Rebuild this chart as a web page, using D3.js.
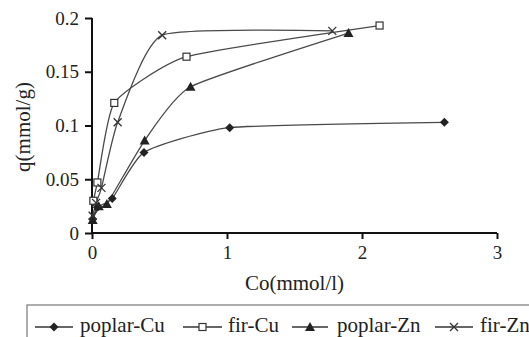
<!DOCTYPE html>
<html>
<head>
<meta charset="utf-8">
<script src="https://cdn.jsdelivr.net/npm/d3@7"></script>
<style>
  body { margin: 0; background: #fff; }
</style>
</head>
<body>
<div id="chart"></div>
<script>
var svgWidth = 529;
var svgHeight = 337;
var serif = "'Liberation Serif', 'Times New Roman', serif";

var margin = { top: 18, right: 32, bottom: 104, left: 92 };
var width = svgWidth - margin.left - margin.right;
var height = svgHeight - margin.top - margin.bottom;

// data: [Co (mmol/l), q (mmol/g)]
var seriesNames = ["poplar-Cu", "fir-Cu", "poplar-Zn", "fir-Zn"];
var markerTypes = ["diamond", "square", "triangle", "cross"];
var poplarCu = [[0.005, 0.013], [0.04, 0.024], [0.15, 0.032], [0.385, 0.075], [1.02, 0.098], [2.61, 0.103]];
var firCu = [[0.01, 0.03], [0.04, 0.047], [0.165, 0.121], [0.70, 0.164], [2.13, 0.193]];
var poplarZn = [[0.005, 0.012], [0.05, 0.025], [0.11, 0.027], [0.39, 0.086], [0.73, 0.136], [1.90, 0.186]];
var firZn = [[0.005, 0.016], [0.03, 0.028], [0.07, 0.042], [0.19, 0.103], [0.52, 0.184], [1.78, 0.188]];
var xTicks = [0, 1, 2, 3];
var yTicks = [0, 0.05, 0.1, 0.15, 0.2];

var allSeries = [poplarCu, firCu, poplarZn, firZn];

var svg = d3.select("#chart")
    .append("svg")
    .attr("width", svgWidth)
    .attr("height", svgHeight);

var chartGroup = svg.append("g")
    .attr("transform", `translate(${margin.left}, ${margin.top})`);

var xScale = d3.scaleLinear().domain([0, 3]).range([0, width]);
var yScale = d3.scaleLinear().domain([0, 0.2]).range([height, 0]);

/********************************************************/

var bottomAxis = d3.axisBottom(xScale).tickValues(xTicks).tickFormat(d3.format("d")).tickSize(6).tickPadding(7);
var leftAxis = d3.axisLeft(yScale).tickValues(yTicks).tickFormat(d => d === 0 ? "0" : String(d)).tickSize(7).tickPadding(6);

var xAxisG = chartGroup.append("g")
    .attr("transform", `translate(0, ${height})`)
    .call(bottomAxis);

var yAxisG = chartGroup.append("g")
    .call(leftAxis);

[xAxisG, yAxisG].forEach(function (g) {
    g.select(".domain").attr("stroke", "#111").attr("stroke-width", 2);
    g.selectAll(".tick line").attr("stroke", "#111").attr("stroke-width", 2);
    g.selectAll(".tick text").attr("fill", "#222")
        .style("font-family", serif).style("font-size", "19px");
});
xAxisG.select(".domain").attr("d", `M0,0H${width}`);
yAxisG.select(".domain").attr("d", `M0,${height}V0`);

/********************************************************/

var line = d3.line()
    .x(d => xScale(d[0]))
    .y(d => yScale(d[1]))
    .curve(d3.curveCardinal.tension(0.5));

function drawMarker(g, type, x, y) {
    if (type === "diamond") {
        g.append("path").attr("d", `M${x},${y - 4.5}L${x + 4.5},${y}L${x},${y + 4.5}L${x - 4.5},${y}Z`)
            .attr("fill", "#222");
    } else if (type === "square") {
        g.append("rect").attr("x", x - 3.5).attr("y", y - 3.5).attr("width", 7).attr("height", 7)
            .attr("fill", "#fff").attr("stroke", "#333").attr("stroke-width", 1.2);
    } else if (type === "triangle") {
        g.append("path").attr("d", `M${x},${y - 5}L${x + 5},${y + 4}L${x - 5},${y + 4}Z`)
            .attr("fill", "#222");
    } else {
        g.append("path").attr("d", `M${x - 4},${y - 4}L${x + 4},${y + 4}M${x - 4},${y + 4}L${x + 4},${y - 4}`)
            .attr("stroke", "#333").attr("stroke-width", 1.3);
    }
}

allSeries.forEach(function (data, i) {
    chartGroup.append("path")
        .datum(data)
        .attr("d", line)
        .attr("fill", "none")
        .attr("stroke", "#4a4a4a")
        .attr("stroke-width", 1.3);
});

allSeries.forEach(function (data, i) {
    var g = chartGroup.append("g");
    data.forEach(function (d) {
        drawMarker(g, markerTypes[i], xScale(d[0]), yScale(d[1]));
    });
});

/********************************************************/

svg.append("text")
    .attr("transform", "translate(30, 127) rotate(-90)")
    .attr("text-anchor", "middle")
    .attr("fill", "#222")
    .style("font-family", serif).style("font-size", "21px")
    .text("q(mmol/g)");

svg.append("text")
    .attr("x", margin.left + width / 2)
    .attr("y", 290)
    .attr("text-anchor", "middle")
    .attr("fill", "#222")
    .style("font-family", serif).style("font-size", "21px")
    .text("Co(mmol/l)");

// legend, clipped by the page edge like the original
var legend = svg.append("g").attr("transform", "translate(27, 305)");
legend.append("rect")
    .attr("x", 0).attr("y", 0)
    .attr("width", 540).attr("height", 60)
    .attr("fill", "#fff").attr("stroke", "#777").attr("stroke-width", 1.2);

var legendX = [8, 156, 265, 408];
var legendLen = [38, 39, 36, 38];
var legendText = [45, 45, 45, 45];
seriesNames.forEach(function (name, i) {
    var lg = legend.append("g").attr("transform", `translate(${legendX[i]}, 22)`);
    lg.append("line").attr("x1", 0).attr("x2", legendLen[i]).attr("y1", 0).attr("y2", 0)
        .attr("stroke", "#333").attr("stroke-width", 1.3);
    drawMarker(lg, markerTypes[i], legendLen[i] / 2, 0);
    lg.append("text").attr("x", legendText[i]).attr("y", 5)
        .attr("fill", "#222")
        .style("font-family", serif).style("font-size", "21px")
        .text(name);
});
</script>
</body>
</html>
